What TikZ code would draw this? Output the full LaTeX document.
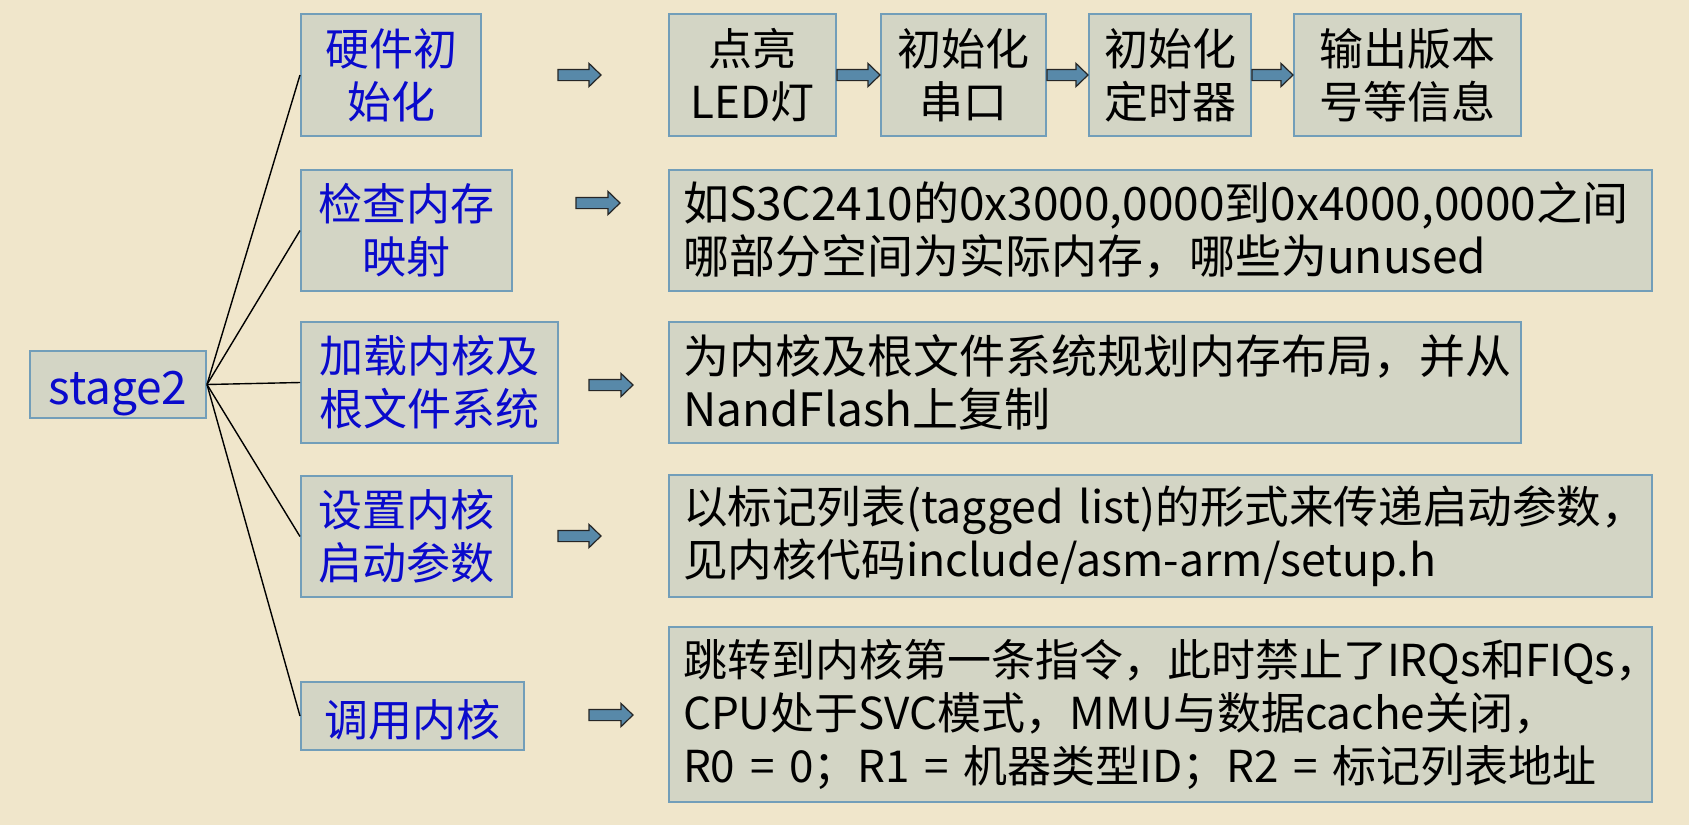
\documentclass[tikz,border=0pt]{standalone}
\usepackage{fontspec}
\setmainfont{Noto Sans CJK SC}
\usetikzlibrary{calc}

\definecolor{pagebg}{HTML}{F0E6CB}
\definecolor{boxfill}{HTML}{D3D5C5}
\definecolor{boxline}{HTML}{729EB9}
\definecolor{arrowfill}{HTML}{5889A9}
\definecolor{stepblue}{HTML}{0A0ACC}

\newcommand\bodyfont{\fontsize{22}{26.5}\selectfont}
\newcommand\largefont{\fontsize{23}{26.5}\selectfont}
\newcommand\midfont{\fontsize{22.3}{26.5}\selectfont}
% lower a one-line label without changing its box
\newcommand\lowered[2]{\raisebox{-#1}[\height][\depth]{#2}}

% thick block arrow from the first named point to the second (same height)
\newcommand\blockarrow[2]{%
  \draw[barrow] let \p1=(#1), \p2=(#2) in
    (\x1,\y1+2.8pt) -- (\x2-6pt,\y1+2.8pt) -- (\x2-6pt,\y1+5.8pt) -- (\x2,\y1)
    -- (\x2-6pt,\y1-5.8pt) -- (\x2-6pt,\y1-2.8pt) -- (\x1,\y1-2.8pt) -- cycle;}

\begin{document}
\begin{tikzpicture}[x=0.5pt,y=-0.5pt,
  box/.style={draw=boxline, line width=1pt, fill=boxfill, inner sep=0pt, font=\bodyfont},
  dims/.style 2 args={minimum width=#1*0.5pt, minimum height=#2*0.5pt},
  stepbox/.style={box, text=stepblue, align=center},
  topbox/.style={box, text=black, align=center},
  notebox/.style={box, text=black, align=left, inner xsep=7pt, text width=#1},
  link/.style={draw=black, line width=0.7pt},
  barrow/.style={fill=arrowfill, draw=black!85, line width=0.6pt, line join=miter}]

  \fill[pagebg] (0,0) rectangle (1689,825);
  \useasboundingbox (0,0) rectangle (1689,825);

  % root and the five steps
  \node[stepbox, dims={176}{67}, font=\largefont] (stage) at (118,384.5) {\lowered{4.5pt}{stage2}};
  \node[stepbox, dims={180}{122}] (l1) at (391,75) {硬件初\\始化};
  \node[stepbox, dims={211}{121}] (l2) at (406.5,230.5) {检查内存\\映射};
  \node[stepbox, dims={257}{121}] (l3) at (429.5,382.5) {加载内核及\\根文件系统};
  \node[stepbox, dims={211}{121}] (l4) at (406.5,536.5) {设置内核\\启动参数};
  \node[stepbox, dims={223}{68}] (l5) at (412.5,716) {\lowered{2pt}{调用内核}};

  \foreach \n in {l1,l2,l3,l4,l5}
    \draw[link] (stage.east) -- (\n.west);

  % hardware init sequence
  \node[topbox, dims={167}{122}] (t1) at (752.5,75) {点亮\\LED灯};
  \node[topbox, dims={165}{122}] (t2) at (963.5,75) {初始化\\串口};
  \node[topbox, dims={162}{122}] (t3) at (1170,75) {初始化\\定时器};
  \node[topbox, dims={227}{122}] (t4) at (1407.5,75) {输出版本\\号等信息};

  % explanations
  \node[notebox=477.5pt, minimum height=60.5pt, font=\largefont] (r2) at (1160.5,230.5)
    {如S3C2410的0x3000,0000到0x4000,0000之间\\哪部分空间为实际内存，哪些为unused};
  \node[notebox=412pt, minimum height=60.5pt, font=\largefont] (r3) at (1095,382.5)
    {为内核及根文件系统规划内存布局，并从\\NandFlash上复制};
  \node[notebox=477.5pt, minimum height=61pt, font=\midfont] (r4) at (1160.5,536)
    {以标记列表(tagged~list)的形式来传递启动参数，\\见内核代码include/asm-arm/setup.h};
  \node[notebox=477.5pt, minimum height=87.5pt] (r5) at (1160.5,714.5)
    {跳转到内核第一条指令，此时禁止了IRQs和FIQs，\\CPU处于SVC模式，MMU与数据cache关闭，\\R0 = 0；R1 = 机器类型ID；R2 = 标记列表地址};

  % arrow ends between the steps and their details
  \coordinate (a1s) at (558,75);  \coordinate (a1e) at (601,75);
  \coordinate (a2s) at (576,203); \coordinate (a2e) at (620,203);
  \coordinate (a3s) at (589,385); \coordinate (a3e) at (633,385);
  \coordinate (a4s) at (558,536); \coordinate (a4e) at (601,536);
  \coordinate (a5s) at (589,715); \coordinate (a5e) at (633,715);

  \blockarrow{a1s}{a1e}
  \blockarrow{a2s}{a2e}
  \blockarrow{a3s}{a3e}
  \blockarrow{a4s}{a4e}
  \blockarrow{a5s}{a5e}

  \blockarrow{t1.east}{t2.west}
  \blockarrow{t2.east}{t3.west}
  \blockarrow{t3.east}{t4.west}
\end{tikzpicture}
\end{document}
